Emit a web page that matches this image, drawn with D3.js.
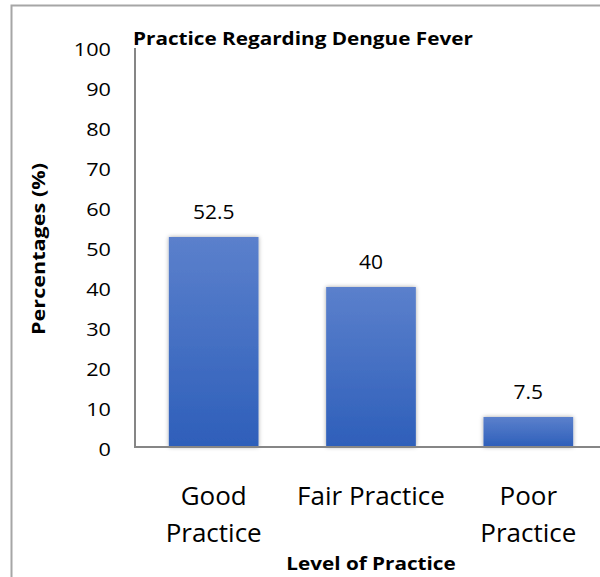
<!DOCTYPE html>
<html>
<head>
<meta charset="utf-8">
<script src="https://cdn.jsdelivr.net/npm/d3@7"></script>
<style>
  body { margin: 0; background: #fff; }
  svg { display: block; font-family: "Open Sans", Lato, sans-serif; }
</style>
</head>
<body>
<div id="chart"></div>
<script>
const categories = ["Good Practice", "Fair Practice", "Poor Practice"];
const values = [52.5, 40, 7.5];
const yTicks = [0, 10, 20, 30, 40, 50, 60, 70, 80, 90, 100];

const width = 600;
const height = 577;
const plot = { left: 135, right: 607, top: 47, bottom: 447 };

const svg = d3.select("#chart")
    .append("svg")
    .attr("width", width)
    .attr("height", height);

const defs = svg.append("defs");
const grad = defs.append("linearGradient")
    .attr("id", "barGrad")
    .attr("x1", 0).attr("y1", 0).attr("x2", 0).attr("y2", 1);
grad.append("stop").attr("offset", "0%").attr("stop-color", "#5b80cc");
grad.append("stop").attr("offset", "100%").attr("stop-color", "#2e5fba");

const shadow = defs.append("filter")
    .attr("id", "shadow")
    .attr("x", "-20%").attr("y", "-20%")
    .attr("width", "140%").attr("height", "140%");
shadow.append("feDropShadow")
    .attr("dx", 0).attr("dy", 0)
    .attr("stdDeviation", 2)
    .attr("flood-color", "#000")
    .attr("flood-opacity", 0.35);

// outer frame
svg.append("path")
    .attr("d", `M11.5,${height} V5.5 H${width}`)
    .attr("fill", "none")
    .attr("stroke", "#a6a6a6")
    .attr("stroke-width", 2);

const xScale = d3.scaleBand()
    .domain(categories)
    .range([plot.left, plot.right])
    .paddingInner(0.43)
    .paddingOuter(0.215);

const yScale = d3.scaleLinear()
    .domain([0, 100])
    .range([plot.bottom, plot.top]);

const cx = c => xScale(c) + xScale.bandwidth() / 2;

// y tick labels (slightly widened glyphs, like the original)
svg.append("g")
    .selectAll("text")
    .data(yTicks)
    .enter()
    .append("text")
    .attr("transform", d => `translate(111,${yScale(d) + 2}) scale(1.14,1)`)
    .attr("dy", "0.35em")
    .attr("text-anchor", "end")
    .attr("font-size", "19px")
    .attr("fill", "#000")
    .text(d => d);

// bars
svg.selectAll(".bar")
    .data(values)
    .enter()
    .append("rect")
    .attr("class", "bar")
    .attr("x", (d, i) => xScale(categories[i]))
    .attr("y", d => yScale(d))
    .attr("width", xScale.bandwidth())
    .attr("height", d => yScale(0) - yScale(d))
    .attr("fill", "url(#barGrad)")
    .attr("filter", "url(#shadow)");

// value labels
svg.selectAll(".val")
    .data(values)
    .enter()
    .append("text")
    .attr("class", "val")
    .attr("transform", (d, i) => `translate(${cx(categories[i])},${yScale(d) - 18}) scale(1.05,1)`)
    .attr("text-anchor", "middle")
    .attr("font-size", "20px")
    .text(d => d);

// axes lines
svg.append("line")
    .attr("x1", plot.left).attr("x2", plot.left)
    .attr("y1", plot.top + 1).attr("y2", plot.bottom)
    .attr("stroke", "#868686").attr("stroke-width", 2);
svg.append("line")
    .attr("x1", plot.left - 1).attr("x2", width)
    .attr("y1", plot.bottom).attr("y2", plot.bottom)
    .attr("stroke", "#868686").attr("stroke-width", 2);

// category labels
const catLines = {
    "Good Practice": ["Good", "Practice"],
    "Fair Practice": ["Fair Practice"],
    "Poor Practice": ["Poor", "Practice"]
};
const catText = svg.append("g")
    .selectAll("text")
    .data(categories)
    .enter()
    .append("text")
    .attr("transform", d => `translate(${cx(d)},505) scale(1.04,1)`)
    .attr("text-anchor", "middle")
    .attr("font-size", "25px");
catText.selectAll("tspan")
    .data(d => catLines[d])
    .enter()
    .append("tspan")
    .attr("x", 0)
    .attr("dy", (d, i) => i === 0 ? 0 : 37)
    .text(d => d);

// title
svg.append("text")
    .attr("transform", "translate(133,45) scale(1.12,1)")
    .attr("font-size", "18.5px")
    .attr("font-weight", "bold")
    .text("Practice Regarding Dengue Fever");

// axis titles
svg.append("text")
    .attr("transform", "translate(371,570) scale(1.15,1)")
    .attr("text-anchor", "middle")
    .attr("font-size", "18px")
    .attr("font-weight", "bold")
    .text("Level of Practice");

svg.append("text")
    .attr("transform", "translate(45,249) rotate(-90) scale(1.2,1)")
    .attr("text-anchor", "middle")
    .attr("font-size", "18px")
    .attr("font-weight", "bold")
    .text("Percentages (%)");
</script>
</body>
</html>
